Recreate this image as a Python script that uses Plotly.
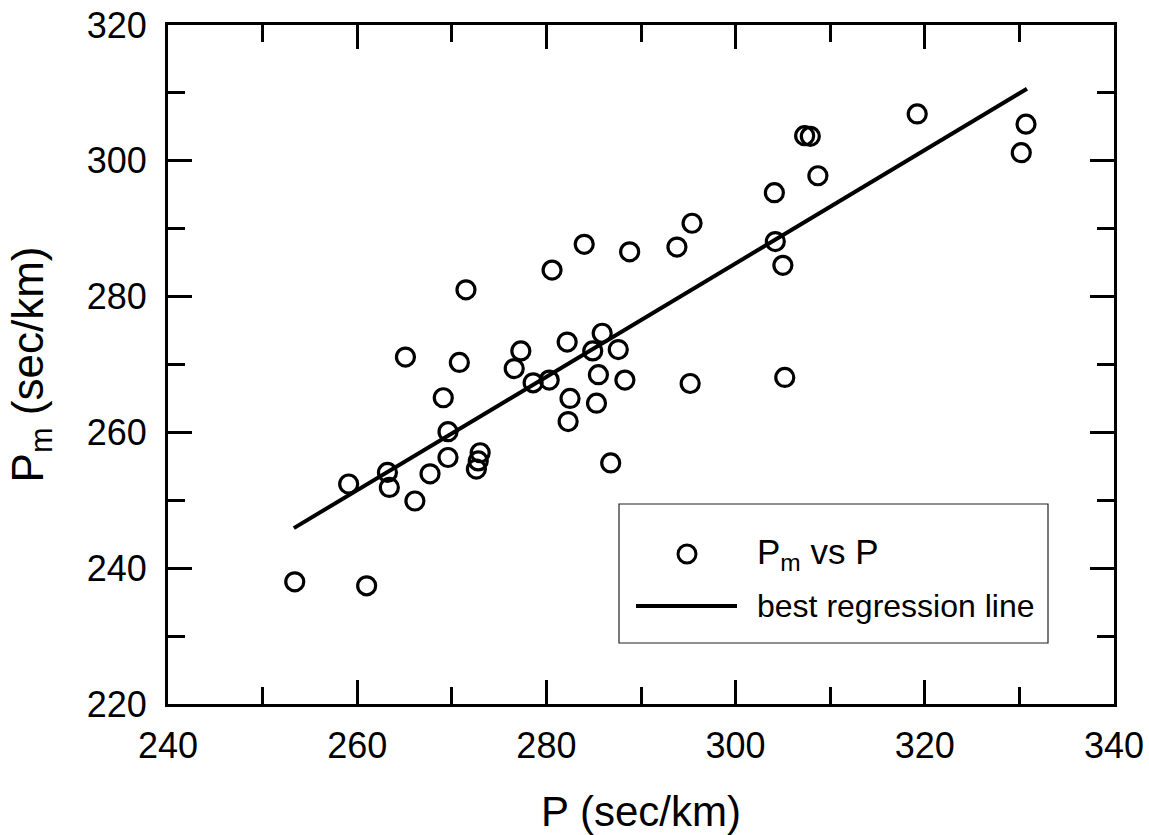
import plotly.graph_objects as go

# Data
p_vals = [253.4, 261.0, 259.1, 263.2, 263.4, 265.1, 266.1, 267.7, 269.1, 269.6,
          269.6, 270.8, 271.5, 272.6, 272.8, 273.0, 276.6, 277.3, 278.6, 280.3,
          280.6, 282.2, 282.5, 282.3, 284.0, 284.9, 285.3, 285.5, 285.9, 286.8,
          287.6, 288.3, 288.8, 293.8, 295.2, 295.4, 304.1, 304.2, 305.0, 305.2,
          307.3, 307.9, 308.7, 319.2, 330.2, 330.7]
pm_vals = [238.0, 237.4, 252.4, 254.1, 251.9, 271.1, 249.9, 253.9, 265.1, 260.1,
           256.3, 270.3, 281.0, 254.6, 255.8, 257.0, 269.4, 272.0, 267.3, 267.7,
           283.9, 273.3, 265.0, 261.6, 287.7, 272.0, 264.3, 268.5, 274.6, 255.5,
           272.2, 267.7, 286.6, 287.3, 267.2, 290.8, 295.3, 288.1, 284.6, 268.1,
           303.7, 303.6, 297.8, 306.9, 301.2, 305.4]

reg_x = [253.3, 330.8]
reg_y = [245.9, 310.6]

x_ticks = [240, 260, 280, 300, 320, 340]
y_ticks = [220, 240, 260, 280, 300, 320]

FONT = "Liberation Sans, Arial, sans-serif"

fig = go.Figure()
fig.add_trace(go.Scatter(
    x=reg_x, y=reg_y, mode="lines",
    line=dict(color="black", width=4),
    showlegend=False, hoverinfo="skip"))
fig.add_trace(go.Scatter(
    x=p_vals, y=pm_vals, mode="markers",
    marker=dict(symbol="circle-open", size=18, color="black",
                line=dict(color="black", width=3.2)),
    showlegend=False))

axis_common = dict(
    showline=True, linewidth=3, linecolor="black", mirror="ticks",
    ticks="inside", ticklen=24, tickwidth=3, tickcolor="black",
    showgrid=False, zeroline=False, automargin=False,
    tickfont=dict(family=FONT, size=36, color="black"),
    minor=dict(ticks="inside", ticklen=17, tickwidth=2.5, tickcolor="black",
               showgrid=False),
)

fig.update_xaxes(range=[240, 340], tickvals=x_ticks, minor_dtick=10,
                 ticklabelstandoff=8,
                 title=dict(text="P (sec/km)", font=dict(family=FONT, size=42, color="black"),
                            standoff=33),
                 **axis_common)
fig.update_yaxes(range=[220, 320], tickvals=y_ticks, minor_dtick=10,
                 ticklabelstandoff=11,
                 title=dict(text="P<sub>m</sub> (sec/km)", font=dict(family=FONT, size=44, color="black"),
                            standoff=30),
                 **axis_common)

W, H = 1149, 835
L, R, T, B = 168, 35, 25, 131
pw, ph = W - L - R, H - T - B

def px(xs):
    return (xs - L) / pw

def py(ys):
    return (H - B - ys) / ph

fig.add_shape(type="rect", xref="paper", yref="paper",
              x0=px(619), x1=px(1048), y0=py(643), y1=py(504),
              line=dict(color="#222", width=1.2), fillcolor="white", layer="above")
fig.add_shape(type="circle", xref="paper", yref="paper",
              x0=px(678), x1=px(696), y0=py(563), y1=py(545),
              line=dict(color="black", width=3), layer="above")
fig.add_shape(type="line", xref="paper", yref="paper",
              x0=px(636), x1=px(737), y0=py(606), y1=py(606),
              line=dict(color="black", width=4), layer="above")
fig.add_annotation(xref="paper", yref="paper", x=px(755), y=py(554),
                   xanchor="left", yanchor="middle", showarrow=False,
                   text="P<sub>m</sub> vs P",
                   font=dict(family=FONT, size=35, color="black"))
fig.add_annotation(xref="paper", yref="paper", x=px(755), y=py(606),
                   xanchor="left", yanchor="middle", showarrow=False,
                   text="best regression line",
                   font=dict(family=FONT, size=32, color="black"))

fig.update_layout(
    width=W, height=H,
    margin=dict(l=L, r=R, t=T, b=B),
    paper_bgcolor="white", plot_bgcolor="white",
    font=dict(family=FONT, color="black"),
)

fig.write_html("out.html",
               config={"displayModeBar": False},
               post_script="document.body.style.margin='0';document.body.style.overflow='hidden';")
